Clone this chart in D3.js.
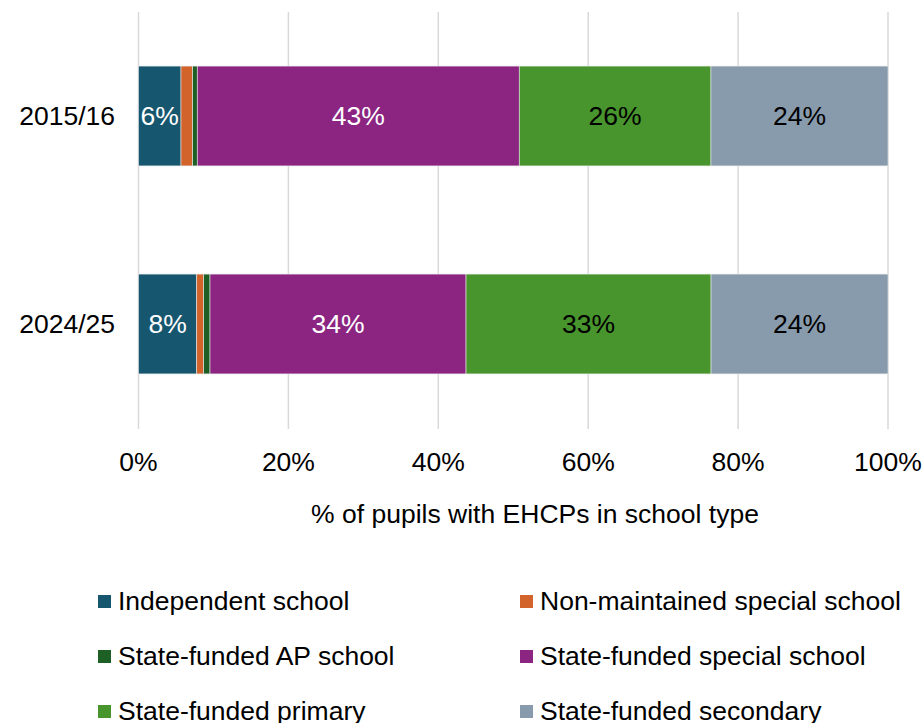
<!DOCTYPE html>
<html>
<head>
<meta charset="utf-8">
<script src="https://cdn.jsdelivr.net/npm/d3@7"></script>
<style>
  body { margin: 0; background: #fff; }
  svg { display: block; font-family: "Liberation Sans", Arial, sans-serif; }
</style>
</head>
<body>
<svg id="chart" width="924" height="723"></svg>
<script>
// data
const years = ["2015/16", "2024/25"];
const schoolTypes = [
  "Independent school",
  "Non-maintained special school",
  "State-funded AP school",
  "State-funded special school",
  "State-funded primary",
  "State-funded secondary"
];
const share1516 = [5.67, 1.56, 0.61, 42.96, 25.58, 23.62];
const share2425 = [7.77, 0.93, 0.84, 34.16, 32.69, 23.61];
const xTicks = [0, 20, 40, 60, 80, 100];
const colours = ["#17566f", "#d1632b", "#1e5f25", "#8b2581", "#47952c", "#889bad"];
const labelColours = ["#fff", "#fff", "#fff", "#fff", "#000", "#000"];

const rows = years.map((y, i) => {
  const vals = i === 0 ? share1516 : share2425;
  const obj = { year: y };
  schoolTypes.forEach((t, j) => obj[t] = vals[j]);
  return obj;
});

const svg = d3.select("#chart");
const fontSize = 26.5;

const x = d3.scaleLinear().domain([0, 100]).range([138.5, 888]);
const y = d3.scaleBand().domain(years).range([12, 428])
  .paddingInner(0.52).paddingOuter(0.26);
const colour = d3.scaleOrdinal(schoolTypes, colours);

// gridlines
svg.append("g")
  .selectAll("line")
  .data(xTicks)
  .join("line")
  .attr("x1", d => x(d)).attr("x2", d => x(d))
  .attr("y1", 12).attr("y2", 429)
  .attr("stroke", "#d9d9d9")
  .attr("stroke-width", 1.5);

const stack = d3.stack().keys(schoolTypes)(rows);

const layers = svg.append("g")
  .selectAll("g")
  .data(stack)
  .join("g")
  .attr("fill", d => colour(d.key));

layers.selectAll("rect")
  .data(d => d)
  .join("rect")
  .attr("x", d => x(d[0]))
  .attr("width", d => x(d[1]) - x(d[0]))
  .attr("y", d => y(d.data.year))
  .attr("height", y.bandwidth())
  .attr("stroke", "#e8e8e8")
  .attr("stroke-width", 0.6);

// value labels for segments big enough
layers.each(function(layer, li) {
  d3.select(this).selectAll("text")
    .data(layer.filter(d => d[1] - d[0] >= 5))
    .join("text")
    .attr("x", d => (x(d[0]) + x(d[1])) / 2)
    .attr("y", d => y(d.data.year) + y.bandwidth() / 2)
    .attr("text-anchor", "middle")
    .attr("dominant-baseline", "central")
    .attr("fill", labelColours[li])
    .style("font-size", fontSize + "px")
    .text(d => Math.round(d[1] - d[0]) + "%");
});

// category labels
svg.append("g")
  .selectAll("text")
  .data(years)
  .join("text")
  .attr("x", 115)
  .attr("y", d => y(d) + y.bandwidth() / 2)
  .attr("text-anchor", "end")
  .attr("dominant-baseline", "central")
  .style("font-size", fontSize + "px")
  .text(d => d);

// x tick labels
svg.append("g")
  .selectAll("text")
  .data(xTicks)
  .join("text")
  .attr("x", d => x(d))
  .attr("y", 462)
  .attr("text-anchor", "middle")
  .attr("dominant-baseline", "central")
  .style("font-size", fontSize + "px")
  .text(d => d + "%");

svg.append("text")
  .attr("x", 535)
  .attr("y", 514)
  .attr("text-anchor", "middle")
  .attr("dominant-baseline", "central")
  .style("font-size", fontSize + "px")
  .text("% of pupils with EHCPs in school type");

// legend, two columns
const legend = svg.append("g")
  .selectAll("g")
  .data(schoolTypes)
  .join("g")
  .attr("transform", (d, i) => `translate(${i % 2 === 0 ? 98 : 520},${601 + Math.floor(i / 2) * 55})`);

legend.append("rect")
  .attr("x", 0).attr("y", -6)
  .attr("width", 13).attr("height", 13)
  .attr("fill", d => colour(d));

legend.append("text")
  .attr("x", 20)
  .attr("y", 0)
  .attr("dominant-baseline", "central")
  .style("font-size", fontSize + "px")
  .text(d => d);
</script>
</body>
</html>
